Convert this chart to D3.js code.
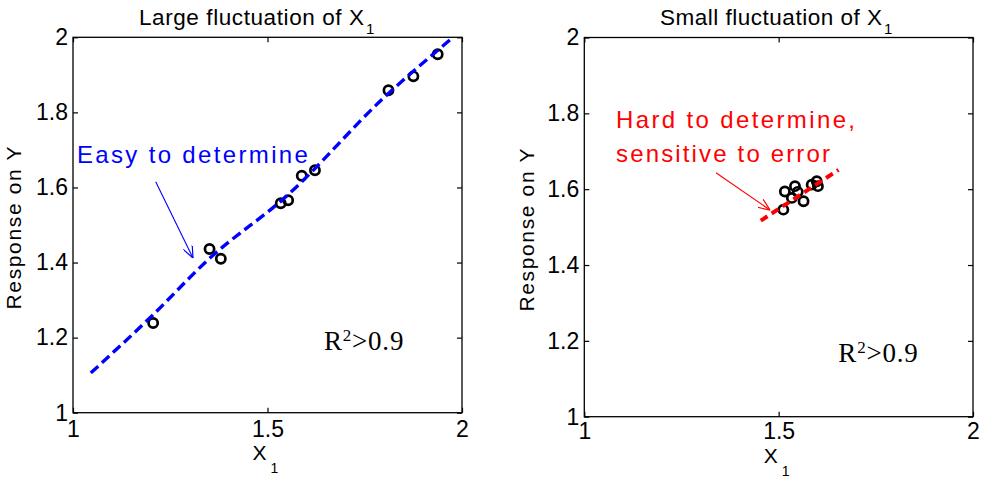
<!DOCTYPE html>
<html><head><meta charset="utf-8">
<script src="https://cdn.jsdelivr.net/npm/d3@7"></script>
<style>body{margin:0;background:#fff}svg{display:block}</style>
</head><body><svg id="c" width="982" height="479"></svg>
<script>
// ---- data ----
const leftX = [1.206, 1.351, 1.380, 1.534, 1.553, 1.588, 1.622, 1.811, 1.875, 1.9375];
const leftY = [1.239, 1.436, 1.410, 1.558, 1.566, 1.631, 1.646, 1.859, 1.896, 1.955];
const leftFitX = [1.046, 1.2, 1.35, 1.55, 1.8, 1.969];
const leftFitY = [1.106, 1.255, 1.410, 1.578, 1.840, 1.993];
const rightX = [1.512, 1.516, 1.542, 1.534, 1.564, 1.549, 1.585, 1.598, 1.601];
const rightY = [1.546, 1.594, 1.608, 1.577, 1.568, 1.593, 1.612, 1.621, 1.608];
const rightFitX = [1.454, 1.654];
const rightFitY = [1.517, 1.651];
const xTicks = [1, 1.5, 2];
const xTickLabels = ["1", "1.5", "2"];
const yTicks = [1, 1.2, 1.4, 1.6, 1.8, 2];
const yTickLabels = ["1", "1.2", "1.4", "1.6", "1.8", "2"];
const titles = ["Large fluctuation of X", "Small fluctuation of X"];
const xLabel = "X";
const yLabel = "Response on Y";
const rLabel = ["R", "2", ">0.9"];

const SANS = '"Liberation Sans", Arial, sans-serif';
const SERIF = '"Liberation Serif", "Times New Roman", serif';
const svg = d3.select("#c");

const defs = svg.append("defs");
[["arrBlue","#0000ff"],["arrRed","#ff0000"]].forEach(([id,c])=>{
  defs.append("marker").attr("id",id).attr("viewBox","0 0 12 10")
    .attr("refX",12).attr("refY",5).attr("markerWidth",12).attr("markerHeight",10)
    .attr("markerUnits","userSpaceOnUse").attr("orient","auto")
    .append("path").attr("d","M0,0 L12,5 L0,10").attr("fill","none")
    .attr("stroke",c).attr("stroke-width",1.2);
});

function panel(cfg){
  const x = d3.scaleLinear().domain([1,2]).range([cfg.x0, cfg.x1]);
  const y = d3.scaleLinear().domain([1,2]).range([cfg.y1, cfg.y0]);
  const g = svg.append("g");

  const ax = (gen, tr, labels) => {
    const a = g.append("g").attr("transform", tr).call(gen);
    a.select(".domain").remove();
    a.selectAll(".tick line").attr("stroke","#000").attr("stroke-width",1.2);
    a.selectAll(".tick text").attr("font-family",SANS).attr("font-size",23).attr("fill","#000");
    if(!labels) a.selectAll(".tick text").remove();
    return a;
  };
  ax(d3.axisLeft(y).tickValues(yTicks).tickFormat((d,i)=>yTickLabels[i]).tickSizeInner(-5).tickSizeOuter(0).tickPadding(5),
     `translate(${cfg.x0},0)`, true);
  ax(d3.axisRight(y).tickValues(yTicks).tickSizeInner(-5).tickSizeOuter(0),
     `translate(${cfg.x1},0)`, false);
  ax(d3.axisBottom(x).tickValues(xTicks).tickFormat((d,i)=>xTickLabels[i]).tickSizeInner(-5).tickSizeOuter(0).tickPadding(cfg.xpad),
     `translate(0,${cfg.y1})`, true);
  ax(d3.axisTop(x).tickValues(xTicks).tickSizeInner(-5).tickSizeOuter(0),
     `translate(0,${cfg.y0})`, false);

  g.append("rect").attr("x",cfg.x0).attr("y",cfg.y0)
    .attr("width",cfg.x1-cfg.x0).attr("height",cfg.y1-cfg.y0)
    .attr("fill","none").attr("stroke","#000").attr("stroke-width",1.3);

  // title
  g.append("text").attr("x",cfg.tx).attr("y",25).attr("font-family",SANS).attr("font-size",22.5)
    .attr("textLength",cfg.tlen).attr("lengthAdjust","spacing").text(cfg.title);
  g.append("text").attr("x",cfg.tx+cfg.tlen+2).attr("y",34).attr("font-family",SANS).attr("font-size",15).text("1");

  // x label
  const xm = (cfg.x0+cfg.x1)/2;
  g.append("text").attr("x",xm-15).attr("y",cfg.xly).attr("font-family",SANS).attr("font-size",21).text(xLabel);
  g.append("text").attr("x",xm+3).attr("y",cfg.xly+13).attr("font-family",SANS).attr("font-size",14).text("1");

  // y label
  g.append("text").attr("transform",`translate(${cfg.ylx},${(cfg.y0+cfg.y1)/2+3}) rotate(-90)`)
    .attr("text-anchor","middle").attr("font-family",SANS).attr("font-size",21)
    .attr("textLength",163).attr("lengthAdjust","spacing").text(yLabel);

  // points
  g.append("g").selectAll("circle").data(cfg.px.map((v,i)=>[v,cfg.py[i]])).join("circle")
    .attr("cx",d=>x(d[0])).attr("cy",d=>y(d[1])).attr("r",4.6)
    .attr("fill","none").attr("stroke","#000").attr("stroke-width",2.7);

  // fit line
  g.append("path").datum(cfg.fx.map((v,i)=>[v,cfg.fy[i]]))
    .attr("d",d3.line().x(d=>x(d[0])).y(d=>y(d[1])).curve(d3.curveMonotoneX))
    .attr("fill","none").attr("stroke",cfg.color).attr("stroke-width",cfg.lw)
    .attr("stroke-dasharray",cfg.dash);

  // annotation text
  cfg.ann.forEach(a=>{
    g.append("text").attr("x",x(a.x)).attr("y",y(a.y)).attr("font-family",SANS).attr("font-size",24)
      .attr("fill",cfg.color).attr("textLength",a.len).attr("lengthAdjust","spacing").text(a.t);
  });
  // arrow
  g.append("line").attr("x1",x(cfg.arrow[0])).attr("y1",y(cfg.arrow[1]))
    .attr("x2",x(cfg.arrow[2])).attr("y2",y(cfg.arrow[3]))
    .attr("stroke",cfg.color).attr("stroke-width",1.1).attr("marker-end",`url(#${cfg.marker})`);

  // R^2
  const r = g.append("text").attr("x",x(cfg.rx)).attr("y",y(cfg.ry)).attr("font-family",SERIF)
    .attr("font-size",27).attr("fill","#000").attr("letter-spacing",0.8);
  r.append("tspan").text(rLabel[0]);
  r.append("tspan").attr("font-size",17).attr("dy",-9).text(rLabel[1]);
  r.append("tspan").attr("dy",9).text(rLabel[2]);
}

panel({x0:73, x1:462, y0:37.3, y1:412.7, title:titles[0], tx:139, tlen:225, ylx:21, xly:460, xpad:8,
  px:leftX, py:leftY, fx:leftFitX, fy:leftFitY, color:"#0000ff", lw:3.4, dash:"10,5",
  ann:[{t:"Easy to determine", x:1.010, y:1.665, len:231}],
  arrow:[1.2126,1.615,1.3085,1.412], marker:"arrBlue", rx:1.645, ry:1.167});

panel({x0:584.3, x1:973, y0:37.5, y1:416.7, title:titles[1], tx:660, tlen:222, ylx:534, xly:462.5, xpad:6,
  px:rightX, py:rightY, fx:rightFitX, fy:rightFitY, color:"#ff0000", lw:4, dash:"8,5",
  ann:[{t:"Hard to determine,", x:1.0816, y:1.7605, len:239},{t:"sensitive to error", x:1.0816, y:1.6725, len:214}],
  arrow:[1.3387,1.6435,1.4779,1.545], marker:"arrRed", rx:1.6535, ry:1.1433});
</script></body></html>
